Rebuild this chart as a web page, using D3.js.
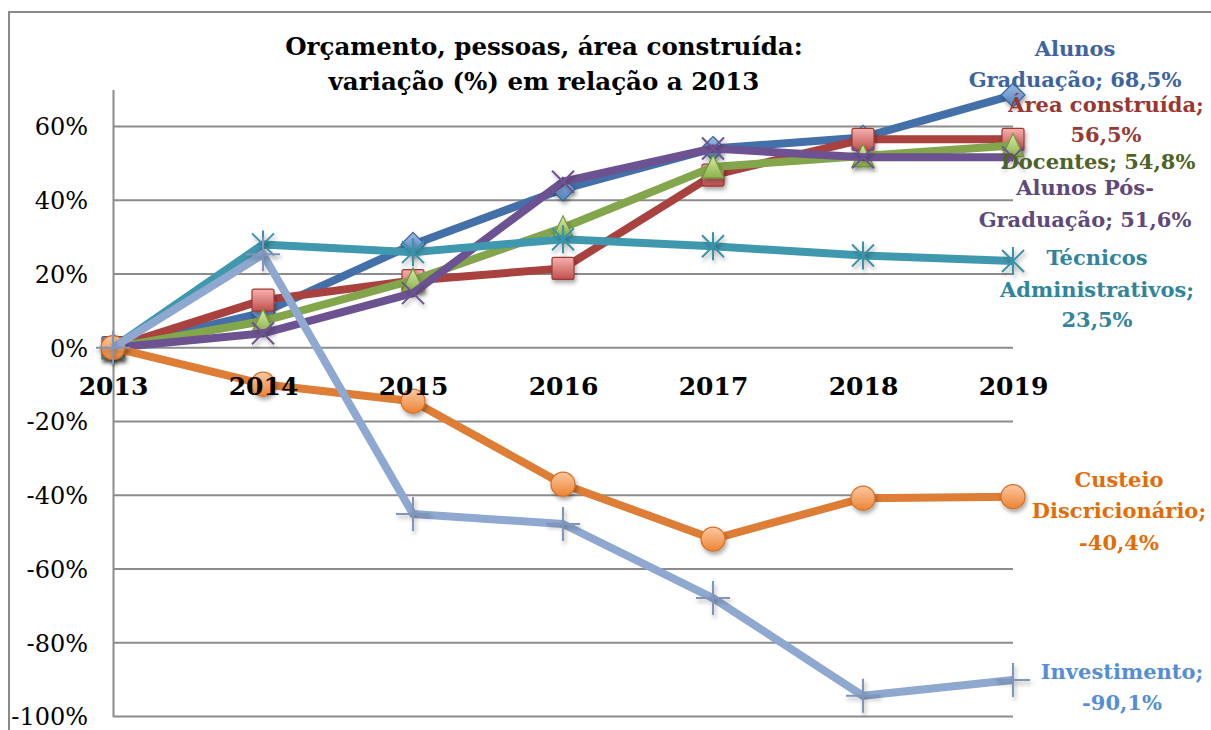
<!DOCTYPE html>
<html><head><meta charset="utf-8">
<script src="https://cdn.jsdelivr.net/npm/d3@7"></script>
<style>
html,body{margin:0;padding:0;background:#fff;}
svg{display:block;font-family:"DejaVu Serif",serif;}
</style></head>
<body>
<svg id="chart" width="1211" height="730"></svg>
<script>
// ---- data ----
const years = ["2013","2014","2015","2016","2017","2018","2019"];
const alunosGraduacao = [0, 9.5, 28, 43, 54, 57, 68.5];
const areaConstruida   = [0, 12.9, 18.2, 21.5, 46.8, 56.5, 56.5];
const docentes         = [0, 7.2, 18.3, 32.5, 49, 52, 54.8];
const alunosPos        = [0, 3.9, 14.8, 45, 54, 51.6, 51.6];
const tecnicos         = [0, 28, 25.9, 29.4, 27.5, 25, 23.5];
const custeio          = [0, -9.9, -14.5, -37, -51.9, -40.8, -40.4];
const investimento     = [0, 25.3, -45.1, -47.8, -67.9, -94.4, -90.1];
const yTicks = [60, 40, 20, 0, -20, -40, -60, -80, -100];
const titleLines = ["Orçamento, pessoas, área construída:", "variação (%) em relação a 2013"];

const series = [
  {name:"Alunos Graduação", values:alunosGraduacao, label:["Alunos","Graduação; 68,5%"]},
  {name:"Área construída", values:areaConstruida, label:["Área construída;","56,5%"]},
  {name:"Docentes", values:docentes, label:["Docentes; 54,8%"]},
  {name:"Alunos Pós-Graduação", values:alunosPos, label:["Alunos Pós-","Graduação; 51,6%"]},
  {name:"Técnicos Administrativos", values:tecnicos, label:["Técnicos","Administrativos;","23,5%"]},
  {name:"Custeio Discricionário", values:custeio, label:["Custeio","Discricionário;","-40,4%"]},
  {name:"Investimento", values:investimento, label:["Investimento;","-90,1%"]}
];

// ---- styles / layout ----
const styles = [
  {line:"#4470A9", text:"#3D64A0", marker:"diamond", c1:"#9DBBE6", c2:"#4F81BD", stroke:"#3A6299"},
  {line:"#A9413F", text:"#993733", marker:"square", c1:"#F7B1B0", c2:"#C0504D", stroke:"#9B3A37"},
  {line:"#83A54B", text:"#4F6228", marker:"triangle", c1:"#D7EBA9", c2:"#8DB34A", stroke:"#76963C"},
  {line:"#6C5291", text:"#5F497A", marker:"x", c1:null, c2:null, stroke:"#6C5291"},
  {line:"#3F98AE", text:"#31849B", marker:"asterisk", c1:null, c2:null, stroke:"#3A93AA"},
  {line:"#DD7D36", text:"#E36C09", marker:"circle", c1:"#FDC8A0", c2:"#EB8436", stroke:"#D36F22"},
  {line:"#8EA8CF", text:"#558ED5", marker:"plus", c1:null, c2:null, stroke:"#7F95BB"}
];
const labelPos = [
  {cx:1075, ys:[49,80]},
  {cx:1106, ys:[105,135]},
  {cx:1098, ys:[162]},
  {cx:1085, ys:[188,220]},
  {cx:1097, ys:[258,290,320]},
  {cx:1119, ys:[480,511,543]},
  {cx:1122, ys:[672,703]}
];

const svg = d3.select("#chart");
const defs = svg.append("defs");
const shadow = defs.append("filter").attr("id","shadow").attr("x","-50%").attr("y","-50%").attr("width","200%").attr("height","200%");
shadow.append("feDropShadow").attr("dx",1.5).attr("dy",3).attr("stdDeviation",2).attr("flood-color","#000").attr("flood-opacity",0.35);
styles.forEach((s,i)=>{
  if(!s.c1) return;
  const g = defs.append("linearGradient").attr("id","grad"+i).attr("x1",0).attr("y1",0).attr("x2",0).attr("y2",1);
  g.append("stop").attr("offset","0%").attr("stop-color",s.c1);
  g.append("stop").attr("offset","100%").attr("stop-color",s.c2);
});

// frame
svg.append("path").attr("d","M9,730 L9,12 L1211,12").attr("fill","none").attr("stroke","#8a8a8a").attr("stroke-width",2);

const x = d3.scalePoint().domain(years).range([113, 1013]);
const y = d3.scaleLinear().domain([-100, 70]).range([716.5, 89.5]);

// gridlines
svg.append("g").selectAll("line").data(yTicks).join("line")
  .attr("x1",113).attr("x2",1013).attr("y1",d=>y(d)).attr("y2",d=>y(d))
  .attr("stroke","#8c8c8c").attr("stroke-width",2);

// y axis
const yAxis = d3.axisLeft(y).tickValues(yTicks).tickSize(0).tickPadding(25).tickFormat(d=>d+"%");
const gy = svg.append("g").attr("transform","translate(113,0)").call(yAxis);
gy.select(".domain").attr("stroke","#8c8c8c").attr("stroke-width",2);
gy.selectAll("text").attr("font-family","DejaVu Serif").attr("font-size",24).attr("fill","#000").attr("dy","0.35em");

// title
svg.append("g").selectAll("text").data(titleLines).join("text")
  .attr("x",544).attr("y",(d,i)=>55+i*35).attr("text-anchor","middle")
  .attr("font-family","DejaVu Serif").attr("font-weight","bold").attr("font-size",24.5).attr("fill","#000")
  .text(d=>d);

const line = d3.line().x((d,i)=>x(years[i])).y(d=>y(d));

function drawMarker(g, s, i){
  const R = 11;
  if(s.marker==="diamond"){
    g.append("path").attr("d",`M0,${-R-1} L${R+1},0 L0,${R+1} L${-R-1},0 Z`).attr("fill","url(#grad"+i+")").attr("stroke",s.stroke).attr("stroke-width",1.2).attr("filter","url(#shadow)");
  } else if(s.marker==="square"){
    g.append("rect").attr("x",-R).attr("y",-R).attr("width",2*R).attr("height",2*R).attr("rx",2).attr("fill","url(#grad"+i+")").attr("stroke",s.stroke).attr("stroke-width",1.2).attr("filter","url(#shadow)");
  } else if(s.marker==="triangle"){
    g.append("path").attr("d",`M0,${-R-1} L${R},${R} L${-R},${R} Z`).attr("fill","url(#grad"+i+")").attr("stroke",s.stroke).attr("stroke-width",1.2).attr("filter","url(#shadow)");
  } else if(s.marker==="circle"){
    g.append("circle").attr("r",R+1).attr("fill","url(#grad"+i+")").attr("stroke",s.stroke).attr("stroke-width",1.2).attr("filter","url(#shadow)");
  } else if(s.marker==="x"){
    g.append("path").attr("d",`M${-R},${-R} L${R},${R} M${R},${-R} L${-R},${R}`).attr("stroke",s.stroke).attr("stroke-width",2).attr("filter","url(#shadow)");
  } else if(s.marker==="asterisk"){
    g.append("path").attr("d",`M${-R},${-R} L${R},${R} M${R},${-R} L${-R},${R} M0,${-R-3} L0,${R+3}`).attr("stroke",s.stroke).attr("stroke-width",2).attr("filter","url(#shadow)");
  } else if(s.marker==="plus"){
    g.append("path").attr("d",`M${-R-6},0 L${R+6},0 M0,${-R-6} L0,${R+6}`).attr("stroke",s.stroke).attr("stroke-width",2).attr("filter","url(#shadow)");
  }
}

series.forEach((s,i)=>{
  const st = styles[i];
  const g = svg.append("g");
  g.append("path").datum(s.values).attr("d",line).attr("fill","none")
    .attr("stroke",st.line).attr("stroke-width",8).attr("stroke-linejoin","round");
  s.values.forEach((v,j)=>{
    const mg = g.append("g").attr("transform",`translate(${x(years[j])},${y(v)})`);
    drawMarker(mg, st, i);
  });
});

// x labels (drawn on top of the series, as in the reference)
const xAxis = d3.axisBottom(x).tickSize(0).tickPadding(0);
const gx = svg.append("g").attr("transform","translate(0,"+y(0)+")").call(xAxis);
gx.select(".domain").remove();
gx.selectAll("text").attr("font-family","DejaVu Serif").attr("font-size",25).attr("font-weight","bold").attr("fill","#000").attr("dy","1.88em");

// labels
series.forEach((s,i)=>{
  const lp = labelPos[i];
  svg.append("g").selectAll("text").data(s.label).join("text")
    .attr("x",lp.cx).attr("y",(d,k)=>lp.ys[k]).attr("dy","0.35em").attr("text-anchor","middle")
    .attr("font-family","DejaVu Serif").attr("font-weight","bold").attr("font-size",21)
    .attr("fill",styles[i].text).text(d=>d);
});
</script>
</body></html>
